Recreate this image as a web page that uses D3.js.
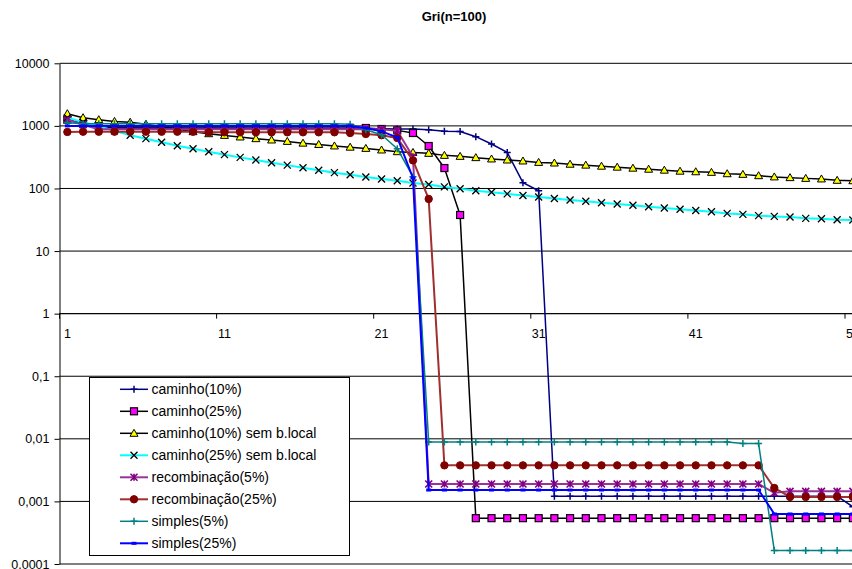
<!DOCTYPE html>
<html>
<head>
<meta charset="utf-8">
<script src="https://cdn.jsdelivr.net/npm/d3@7"></script>
<style>
  body { margin: 0; background: #fff; }
  svg { display: block; font-family: "Liberation Sans", Arial, sans-serif; }
</style>
</head>
<body>
<svg id="chart" width="852" height="569"></svg>
<script>
// Generations on the category axis (the axis runs a little past the last plotted one)
const categories = d3.range(1, 55);
const xTickLabels = ["1", "11", "21", "31", "41", "51"];
const yTickValues = [0.0001, 0.001, 0.01, 0.1, 1, 10, 100, 1000, 10000];
const yTickLabels = ["0,0001", "0,001", "0,01", "0,1", "1", "10", "100", "1000", "10000"];

const seriesNames = [
  "caminho(10%)", "caminho(25%)", "caminho(10%) sem b.local", "caminho(25%) sem b.local",
  "recombinação(5%)", "recombinação(25%)", "simples(5%)", "simples(25%)"
];

const caminho10 = [1250, 1100, 1000, 930, 925, 920, 915, 920, 910, 915, 905, 910, 900, 905, 900, 895, 900,
  890, 895, 890, 900, 895, 890, 870, 820, 815, 672, 514, 377, 124, 92,
  0.00121, 0.00121, 0.00121, 0.00121, 0.00121, 0.00121, 0.00121, 0.00121, 0.00121, 0.00121,
  0.00121, 0.00121, 0.00121, 0.00121, 0.00121, 0.00121, 0.00121, 0.00121, 0.00121, 0.00082];

const caminho25 = [1256, 1084, 971, 925, 925, 925, 925, 925, 925, 925, 925, 925, 925, 925, 925, 925, 925,
  925, 925, 925, 892, 848, 770, 477, 212, 37.7,
  0.00054, 0.00054, 0.00054, 0.00054, 0.00054, 0.00054, 0.00054, 0.00054, 0.00054, 0.00054,
  0.00054, 0.00054, 0.00054, 0.00054, 0.00054, 0.00054, 0.00054, 0.00054, 0.00054, 0.00054,
  0.00054, 0.00054, 0.00054, 0.00054, 0.00054];

const caminho10SemLocal = [1567, 1352, 1256, 1180, 1146, 1065, 971, 886, 808, 750, 705, 665, 625, 595,
  565, 530, 505, 478, 457, 437, 412, 387, 377, 364, 338, 326, 311, 296, 285, 275, 261, 255, 244, 236,
  227, 219, 211, 203, 196, 189, 185, 181, 172, 168, 160, 153, 149, 145, 142, 135, 133];

const caminho25SemLocal = [1352, 1146, 989, 838, 710, 625, 549, 483, 432, 387, 347, 314, 285, 258, 236,
  215, 196, 179, 166, 153, 142, 133, 122, 116, 106, 99, 92, 87, 82, 77, 73, 69, 65.5, 62.5, 59.3, 56.5,
  53.9, 51.2, 48.8, 46.5, 44.4, 42.6, 40.0, 38.6, 36.8, 35.8, 35.1, 33.3, 32.9, 31.7, 31.3];

const recomb5 = [1256, 1045, 886, 886, 886, 886, 886, 886, 886, 886, 886, 886, 886, 886, 886, 886, 886,
  886, 886, 886, 886, 838, 322,
  0.0019, 0.0019, 0.0019, 0.0019, 0.0019, 0.0019, 0.0019, 0.0019, 0.0019, 0.0019, 0.0019,
  0.0019, 0.0019, 0.0019, 0.0019, 0.0019, 0.0019, 0.0019, 0.0019, 0.0019, 0.0019, 0.0019,
  0.00137, 0.00145, 0.00145, 0.00145, 0.00145, 0.00145];

const recomb25 = [800, 808, 808, 808, 808, 808, 808, 808, 808, 790, 790, 790, 790, 790, 790, 790, 790,
  790, 770, 743, 710, 641, 281, 68,
  0.00377, 0.00377, 0.00377, 0.00377, 0.00377, 0.00377, 0.00377, 0.00377, 0.00377, 0.00377, 0.00377,
  0.00377, 0.00377, 0.00377, 0.00377, 0.00377, 0.00377, 0.00377, 0.00377, 0.00377, 0.00377,
  0.00164, 0.00118, 0.00118, 0.00118, 0.00118, 0.00118];

const simples5 = [1125, 1084, 1084, 1084, 1084, 1084, 1084, 1084, 1084, 1084, 1084, 1084, 1084, 1084,
  1084, 1084, 1084, 1084, 1065, 869, 723, 432, 154,
  0.0089, 0.0089, 0.0089, 0.0089, 0.0089, 0.0089, 0.0089, 0.0089, 0.0089, 0.0089,
  0.0089, 0.0089, 0.0089, 0.0089, 0.0089, 0.0089, 0.0089, 0.0089, 0.0089, 0.0089,
  0.0084, 0.0084, 0.000164, 0.000164, 0.000164, 0.000164, 0.000164, 0.000164];

const simples25 = [1000, 1000, 1000, 1000, 1000, 1000, 1000, 1000, 1000, 1000, 1000, 1000, 1000, 1000,
  1000, 1000, 1000, 1000, 1000, 925, 817, 655, 147,
  0.00152, 0.00152, 0.00152, 0.00152, 0.00152, 0.00152, 0.00152, 0.00152, 0.00152, 0.00152, 0.00152,
  0.00152, 0.00152, 0.00152, 0.00152, 0.00152, 0.00152, 0.00152, 0.00152, 0.00152, 0.00152, 0.00152,
  0.00063, 0.00063, 0.00063, 0.00063, 0.00063, 0.00063];

const seriesValues = [caminho10, caminho25, caminho10SemLocal, caminho25SemLocal,
  recomb5, recomb25, simples5, simples25];

// Line colour, marker kind, marker fill and marker stroke for each series
const seriesStyles = [
  { line: "#000080", width: 1.5, marker: "plus", fill: "none", stroke: "#000080" },
  { line: "#000000", width: 1.5, marker: "square", fill: "#ff00ff", stroke: "#000000" },
  { line: "#000000", width: 1.5, marker: "triangle", fill: "#ffff00", stroke: "#000000" },
  { line: "#00ffff", width: 2, marker: "cross", fill: "none", stroke: "#000000" },
  { line: "#993399", width: 2, marker: "star", fill: "none", stroke: "#800080" },
  { line: "#a03030", width: 2, marker: "circle", fill: "#800000", stroke: "#800000" },
  { line: "#008080", width: 1.5, marker: "plus", fill: "none", stroke: "#008080" },
  { line: "#0000ff", width: 2, marker: "dash", fill: "#0000ff", stroke: "none" }
];

const svg = d3.select("#chart");
const plotLeft = 59.5, plotTop = 63.3, plotBottom = 564, catStep = 15.71;

const x = d3.scaleBand().domain(categories)
  .range([plotLeft, plotLeft + categories.length * catStep]).padding(0);
const cx = d => x(d) + x.bandwidth() / 2;
const y = d3.scaleLog().domain([0.0001, 10000]).range([plotBottom, plotTop]);
const plotRight = plotLeft + categories.length * catStep;

// Title
svg.append("text").attr("x", 454).attr("y", 21).attr("text-anchor", "middle")
  .attr("font-size", 13).attr("font-weight", "bold").text("Gri(n=100)");

// Horizontal gridlines at each decade
svg.append("g").selectAll("line").data(yTickValues).join("line")
  .attr("x1", plotLeft).attr("x2", plotRight)
  .attr("y1", d => y(d)).attr("y2", d => y(d))
  .attr("stroke", "#000").attr("stroke-width", 1);

// Value axis
const yAxis = d3.axisLeft(y).tickValues(yTickValues)
  .tickFormat((d, i) => yTickLabels[i]).tickSize(5).tickSizeOuter(0).tickPadding(5);
const gy = svg.append("g").attr("transform", `translate(${plotLeft},0)`).call(yAxis);
gy.selectAll("text").attr("font-size", 12.5).attr("fill", "#000")
  .attr("font-family", '"Liberation Sans", Arial, sans-serif');
gy.selectAll("line, path").attr("stroke", "#000");

// Category axis crossing the value axis at 1
const y1 = y(1);
svg.append("line").attr("x1", plotLeft).attr("x2", plotRight).attr("y1", y1).attr("y2", y1)
  .attr("stroke", "#000");
const tickCats = xTickLabels.map(Number);
svg.append("g").selectAll("line").data(tickCats).join("line")
  .attr("x1", d => x(d)).attr("x2", d => x(d))
  .attr("y1", y1).attr("y2", y1 + 5).attr("stroke", "#000");
svg.append("g").selectAll("text").data(xTickLabels).join("text")
  .attr("x", d => cx(+d)).attr("y", y1 + 24).attr("text-anchor", "middle")
  .attr("font-size", 12.5).text(d => d);

// Marker shapes
function drawMarker(g, kind, st) {
  const s = 3.5;
  if (kind === "plus") {
    g.append("path").attr("d", `M${-s},0H${s}M0,${-s}V${s}`)
      .attr("stroke", st.stroke).attr("stroke-width", 1.5).attr("fill", "none");
  } else if (kind === "square") {
    g.append("rect").attr("x", -3.5).attr("y", -3.5).attr("width", 7).attr("height", 7)
      .attr("fill", st.fill).attr("stroke", st.stroke).attr("stroke-width", 1.2);
  } else if (kind === "triangle") {
    g.append("path").attr("d", "M0,-4L4,3L-4,3Z")
      .attr("fill", st.fill).attr("stroke", st.stroke).attr("stroke-width", 1);
  } else if (kind === "cross") {
    g.append("path").attr("d", `M${-s},${-s}L${s},${s}M${-s},${s}L${s},${-s}`)
      .attr("stroke", st.stroke).attr("stroke-width", 1.3);
  } else if (kind === "star") {
    g.append("path").attr("d", `M${-s},${-s}L${s},${s}M${-s},${s}L${s},${-s}M0,${-s}V${s}`)
      .attr("stroke", st.stroke).attr("stroke-width", 1.6);
  } else if (kind === "circle") {
    g.append("circle").attr("r", 3.7).attr("fill", st.fill).attr("stroke", st.stroke);
  } else if (kind === "dash") {
    g.append("rect").attr("x", -2.5).attr("y", -1.5).attr("width", 5).attr("height", 3)
      .attr("fill", st.fill);
  }
}

// Series lines with their markers
const line = d3.line().x(d => cx(d.c)).y(d => y(d.v));
seriesValues.forEach((vals, si) => {
  const st = seriesStyles[si];
  const pts = vals.map((v, i) => ({ c: categories[i], v }));
  const g = svg.append("g");
  g.append("path").datum(pts).attr("d", line)
    .attr("fill", "none").attr("stroke", st.line).attr("stroke-width", st.width)
    .attr("stroke-linejoin", "round");
  pts.forEach(p => {
    const m = g.append("g").attr("transform", `translate(${cx(p.c)},${y(p.v)})`);
    drawMarker(m, st.marker, st);
  });
});

// Legend
const lg = svg.append("g");
lg.append("rect").attr("x", 89.5).attr("y", 377.5).attr("width", 260).attr("height", 178)
  .attr("fill", "#fff").attr("stroke", "#000");
seriesNames.forEach((name, i) => {
  const st = seriesStyles[i];
  const ry = 389.3 + i * 22;
  lg.append("line").attr("x1", 120).attr("x2", 148).attr("y1", ry).attr("y2", ry)
    .attr("stroke", st.line).attr("stroke-width", st.width);
  const m = lg.append("g").attr("transform", `translate(134,${ry})`);
  drawMarker(m, st.marker, st);
  lg.append("text").attr("x", 151.5).attr("y", ry + 5).attr("font-size", 14).text(name);
});
</script>
</body>
</html>
